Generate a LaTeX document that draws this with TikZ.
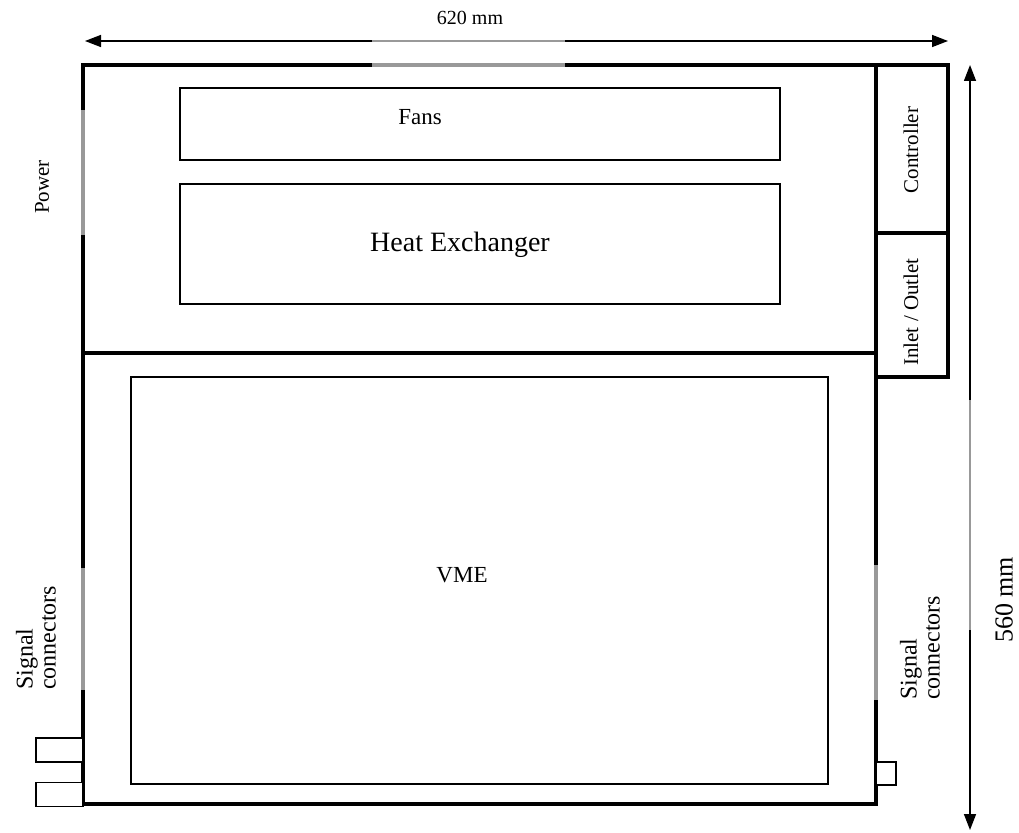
\documentclass[tikz,border=0pt]{standalone}
\usepackage{fontspec}
\setmainfont{Liberation Serif}
\usetikzlibrary{arrows.meta}
\tikzset{
  wall/.style={draw=black, line width=3.4pt},
  part/.style={draw=black, line width=1.8pt, inner sep=0pt, align=center},
  plug/.style={draw=black, line width=1.8pt, fill=white, inner sep=0pt},
  port/.style={draw=gray!80, line width=3.4pt},
  dimline/.style={draw=black, line width=1.5pt, {Triangle[length=16pt,width=12pt]}-{Triangle[length=16pt,width=12pt]}},
  bigtxt/.style={font=\fontsize{23}{26}\selectfont, inner sep=0pt},
  hugetxt/.style={font=\fontsize{28}{32}\selectfont, inner sep=0pt},
  smalltxt/.style={font=\fontsize{21}{23}\selectfont, inner sep=0pt, align=left},
  sigtxt/.style={font=\fontsize{24}{23}\selectfont, inner sep=0pt, align=left}
}
\begin{document}
\begin{tikzpicture}[x=1pt,y=-1pt]
\useasboundingbox (0,0) rectangle (1019,832);

% cabinet outline
\coordinate (tl) at (83,65);
\coordinate (br) at (876,804);
\coordinate (ml) at (83,353);
\coordinate (mr) at (876,353);
\draw[wall] (tl) rectangle (br);
\draw[wall] (ml) -- (mr);

% side modules
\node[part, wall, minimum width=72, minimum height=168] (ctrl) at (912,149) {};
\node[part, wall, minimum width=72, minimum height=144] (inout) at (912,305) {};
\node[smalltxt, rotate=90] (ctrltxt) at (911,150) {Controller};
\node[smalltxt, rotate=90] (inouttxt) at (911,312) {Inlet / Outlet};

% upper compartment
\node[part, minimum width=600, minimum height=72] (fans) at (480,124) {};
\node[bigtxt] (fanstxt) at (420,117) {Fans};
\node[part, minimum width=600, minimum height=120] (hx) at (480,244) {};
\node[hugetxt] (hxtxt) at (460,245) {Heat Exchanger};

% lower compartment
\node[part, minimum width=697, minimum height=407] (vme) at (479.5,580.5) {};
\node[bigtxt] (vmetxt) at (462,575) {VME};

% connectors
\node[plug, minimum width=47, minimum height=24] (plugA) at (59.5,750) {};
\node[plug, minimum width=47, minimum height=24] (plugB) at (59.5,794.5) {};
\node[plug, minimum width=20, minimum height=23] (plugC) at (886,773.5) {};

% openings in the walls
\coordinate (pwrA) at (83,110);
\coordinate (pwrB) at (83,235);
\coordinate (sigLA) at (83,568);
\coordinate (sigLB) at (83,690);
\coordinate (sigRA) at (876,565);
\coordinate (sigRB) at (876,700);
\coordinate (topA) at (372,65);
\coordinate (topB) at (565,65);
\draw[port] (pwrA) -- (pwrB);
\draw[port] (sigLA) -- (sigLB);
\draw[port] (sigRA) -- (sigRB);
\draw[port] (topA) -- (topB);

\node[smalltxt, rotate=90] (pwrtxt) at (42,187) {Power};
\node[sigtxt, rotate=90, anchor=west] (sigLtxt) at (36,690) {Signal\\connectors};
\node[sigtxt, rotate=90, anchor=west] (sigRtxt) at (920,700) {Signal\\connectors};

% dimensions
\coordinate (wA) at (85,41);
\coordinate (wB) at (948,41);
\coordinate (hA) at (970,65);
\coordinate (hB) at (970,830);
\draw[dimline] (wA) -- (wB);
\draw[dimline] (hA) -- (hB);
\draw[draw=gray!80, line width=1.5pt] (372,41) -- (565,41);
\draw[draw=gray!80, line width=1.5pt] (970,400) -- (970,630);
\node[bigtxt, font=\fontsize{20}{23}\selectfont] (wtxt) at (470,18) {620 mm};
\node[bigtxt, font=\fontsize{26}{30}\selectfont, rotate=90] (htxt) at (1004,600) {560 mm};
\end{tikzpicture}
\end{document}
